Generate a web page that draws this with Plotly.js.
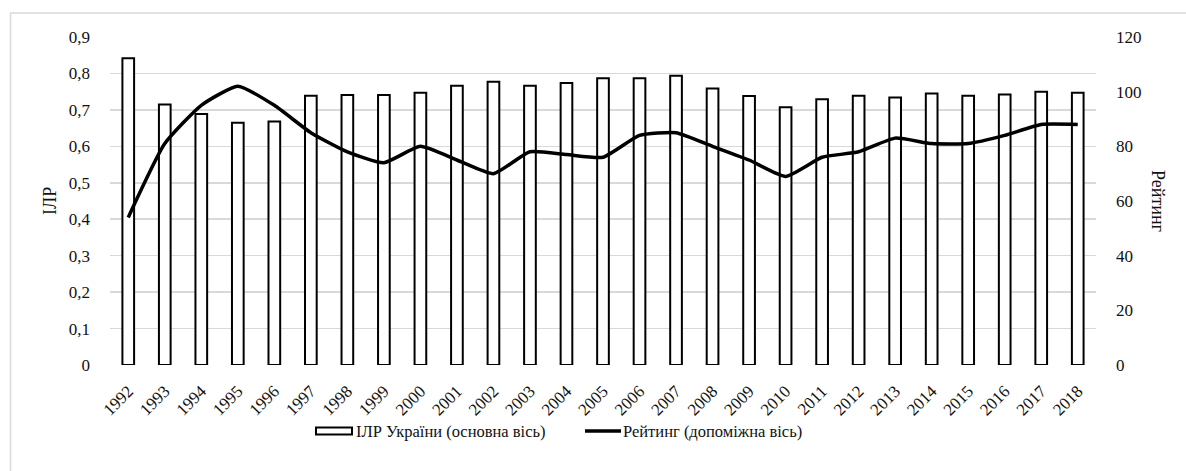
<!DOCTYPE html>
<html>
<head>
<meta charset="utf-8">
<script src="https://cdn.plot.ly/plotly-3.0.1.min.js"></script>
<style>html,body{margin:0;padding:0;background:#fff;}#chart{width:1186px;height:471px;}</style>
</head>
<body>
<div id="chart"></div>
<script>
const years = ["1992","1993","1994","1995","1996","1997","1998","1999","2000","2001","2002","2003","2004","2005","2006","2007","2008","2009","2010","2011","2012","2013","2014","2015","2016","2017","2018"];
const hdiUkraine = [0.842,0.715,0.689,0.665,0.668,0.739,0.741,0.741,0.747,0.766,0.777,0.766,0.774,0.787,0.787,0.794,0.759,0.738,0.707,0.729,0.739,0.734,0.745,0.739,0.742,0.750,0.747];
const rating = [54,81,95,102,95,85,78,74,80,75,70,78,77,76,84,85,80,75,69,76,78,83,81,81,84,88,88];
const seriesNames = ["ІЛР України (основна вісь)", "Рейтинг (допоміжна вісь)"];
const leftTitle = "ІЛР";
const rightTitle = "Рейтинг";

const W = 1186, H = 471;
const M = {l:110, r:90, t:37, b:106};
const PW = W - M.l - M.r, PH = H - M.t - M.b;
const px = v => (v - M.l) / PW;
const py = v => (H - M.b - v) / PH;
const FONT = "'Liberation Serif', 'Times New Roman', serif";
const TXT = "#111111";

const traces = [
  {type:"bar", x:years, y:hdiUkraine, name:seriesNames[0], showlegend:false,
   marker:{color:"#ffffff", line:{color:"#000000", width:2}}, hoverinfo:"x+y"},
  {type:"scatter", mode:"lines", x:years, y:rating, yaxis:"y2", name:seriesNames[1], showlegend:false,
   line:{color:"#000000", width:3.5, shape:"spline", smoothing:0.5}}
];

const layout = {
  width:W, height:H, margin:M,
  paper_bgcolor:"#ffffff", plot_bgcolor:"#ffffff",
  separators:", ",
  bargap:0.68,
  showlegend:false,
  font:{family:FONT, color:TXT, size:16},
  xaxis:{type:"category", tickangle:-45, tickfont:{size:17, family:FONT, color:TXT},
         showgrid:false, showline:false, zeroline:false, ticks:"", automargin:false, ticklabelstandoff:12},
  yaxis:{range:[0,0.9], dtick:0.1, tick0:0, gridcolor:"#d9d9d9", gridwidth:1.5, zeroline:false,
         showline:false, ticks:"", tickfont:{size:17, family:FONT, color:TXT}, ticklabelstandoff:19, automargin:false},
  yaxis2:{range:[0,120], dtick:20, tick0:0, overlaying:"y", side:"right", showgrid:false, zeroline:false,
          showline:false, ticks:"", tickfont:{size:17, family:FONT, color:TXT}, ticklabelstandoff:19, automargin:false},
  shapes:[
    {type:"rect", xref:"paper", yref:"paper", x0:px(10.5), x1:px(1200), y0:py(13), y1:py(480),
     line:{color:"#d9d9d9", width:1.5}, fillcolor:"rgba(0,0,0,0)", layer:"below"},
    {type:"rect", xref:"paper", yref:"paper", x0:px(316), x1:px(352), y0:py(427.5), y1:py(434.5),
     line:{color:"#000000", width:2}, fillcolor:"#ffffff"},
    {type:"line", xref:"paper", yref:"paper", x0:px(585), x1:px(621), y0:py(431), y1:py(431),
     line:{color:"#000000", width:3.5}}
  ],
  annotations:[
    {xref:"paper", yref:"paper", x:px(50), y:py(201), text:leftTitle, textangle:-90, showarrow:false,
     font:{size:18, family:FONT, color:TXT}, xanchor:"center", yanchor:"middle"},
    {xref:"paper", yref:"paper", x:px(1158), y:py(201), text:rightTitle, textangle:90, showarrow:false,
     font:{size:18, family:FONT, color:TXT}, xanchor:"center", yanchor:"middle"},
    {xref:"paper", yref:"paper", x:px(354), y:py(431), text:seriesNames[0], showarrow:false,
     font:{size:16.5, family:FONT, color:TXT}, xanchor:"left", yanchor:"middle"},
    {xref:"paper", yref:"paper", x:px(621), y:py(431), text:seriesNames[1], showarrow:false,
     font:{size:16.5, family:FONT, color:TXT}, xanchor:"left", yanchor:"middle"}
  ]
};

Plotly.newPlot("chart", traces, layout, {displayModeBar:false, staticPlot:true});
</script>
</body>
</html>
